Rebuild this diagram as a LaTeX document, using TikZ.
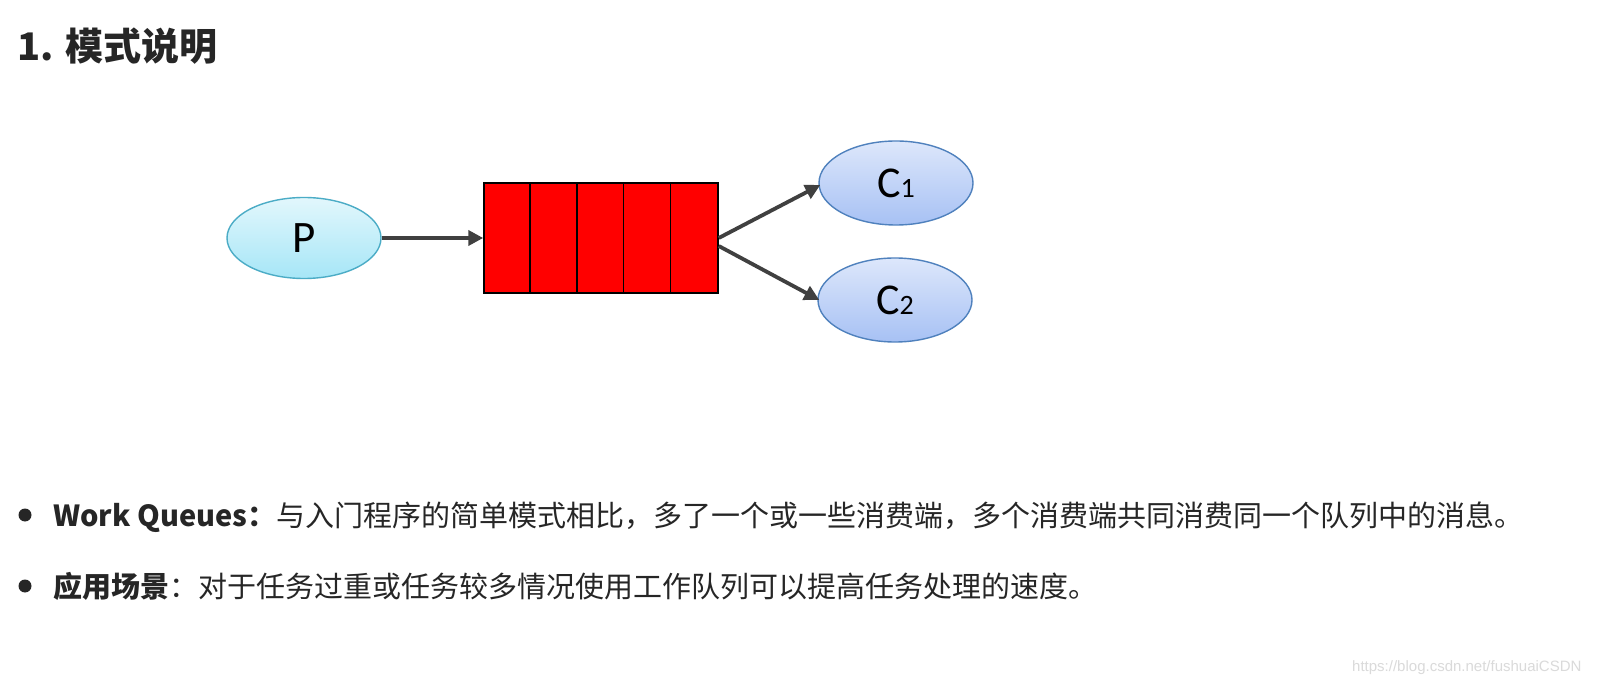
\documentclass[tikz,border=0pt]{standalone}
\usepackage{fontspec}
\setmainfont{Carlito}
\newfontfamily\cjk{Noto Sans CJK SC}
\newfontfamily\wm{Liberation Sans}
\usetikzlibrary{shapes.geometric,arrows.meta}
\definecolor{txt}{HTML}{262626}
\definecolor{arr}{HTML}{404040}
\definecolor{pborder}{HTML}{4BACC6}
\definecolor{ptop}{HTML}{E2F7FC}
\definecolor{pbot}{HTML}{A6E6F7}
\definecolor{cborder}{HTML}{4F81BD}
\definecolor{ctop}{HTML}{DDE7FB}
\definecolor{cbot}{HTML}{A7C1F4}
\definecolor{qred}{HTML}{FF0000}
\definecolor{wmc}{HTML}{DADADA}
\tikzset{
  prod/.style={ellipse, draw=pborder, line width=1.4pt, top color=ptop, bottom color=pbot, minimum width=154pt, minimum height=81pt, inner sep=0pt},
  cons/.style={ellipse, draw=cborder, line width=1.4pt, top color=ctop, bottom color=cbot, minimum width=154pt, minimum height=84pt, inner sep=0pt},
  queuebox/.style={rectangle, draw=black, line width=1.5pt, fill=qred, minimum width=234pt, minimum height=110pt, inner sep=0pt},
  flow/.style={draw=arr, line width=3.8pt, -{Triangle[length=15pt,width=15pt]}},
  bodytext/.style={anchor=base west, inner sep=0pt, text=txt, font=\cjk\fontsize{29}{29}\selectfont},
}
\begin{document}
\begin{tikzpicture}[x=1pt,y=-1pt]
\useasboundingbox (0,0) rectangle (1604,684);
\fill[white] (0,0) rectangle (1604,684);
% title
\node[anchor=base west, inner sep=0pt, text=txt, font=\cjk\bfseries\fontsize{38}{38}\selectfont] (title) at (17,61) {1. 模式说明};
% diagram
\node[prod] (p) at (304,238) {\fontsize{45}{45}\selectfont P};
\node[queuebox] (q) at (601,238) {};
\foreach \i in {1,...,4} {
  \draw[line width=1.5pt] ([xshift=\i*46.8pt]q.north west) -- ([xshift=\i*46.8pt]q.south west);
}
\node[cons] (c1) at (896,183) {\fontsize{44}{44}\selectfont C\fontsize{28}{28}\selectfont 1};
\node[cons] (c2) at (895,300) {\fontsize{44}{44}\selectfont C\fontsize{28}{28}\selectfont 2};
\draw[flow] (p.east) -- (q.west);
\draw[flow] ([yshift=0pt]q.east) -- ([xshift=2pt,yshift=-2pt]c1.west);
\draw[flow] ([yshift=-8pt]q.east) -- ([xshift=2pt]c2.west);
% bullets
\fill[txt] (25,515) circle (6.5pt) coordinate (b1);
\fill[txt] (25,586) circle (6.5pt) coordinate (b2);
\node[bodytext] (l1) at (53,526) {\textbf{Work Queues：}与入门程序的简单模式相比，多了一个或一些消费端，多个消费端共同消费同一个队列中的消息。};
\node[bodytext] (l2) at (53,597) {\textbf{应用场景}：对于任务过重或任务较多情况使用工作队列可以提高任务处理的速度。};
% watermark
\node[anchor=base west, inner sep=0pt, text=wmc, font=\wm\fontsize{15}{15}\selectfont] (wmk) at (1352,671) {https://blog.csdn.net/fushuaiCSDN};
\end{tikzpicture}
\end{document}
